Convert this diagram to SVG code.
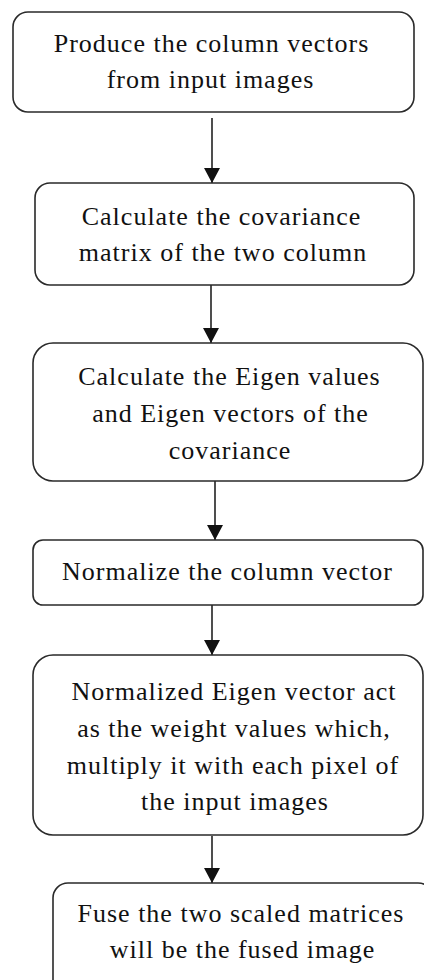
<svg xmlns="http://www.w3.org/2000/svg" width="424" height="980" viewBox="0 0 424 980">
<style>
.box{fill:#fff;stroke:#2a2a2a;stroke-width:1.6}
.t{font-family:"Liberation Serif","Times New Roman",serif;font-size:26px;letter-spacing:1px;fill:#111;text-anchor:middle}
.c{stroke:#222;stroke-width:1.6;fill:none;marker-end:url(#ah)}
</style>
<defs>
<marker id="ah" markerUnits="userSpaceOnUse" markerWidth="18" markerHeight="16" refX="15" refY="8" orient="auto">
<path d="M0,0 L15,8 L0,16 Z" fill="#111"/>
</marker>
</defs>
<rect width="424" height="980" fill="#fff"/>
<g id="connectors">
<line class="c" x1="212" y1="118" x2="212" y2="183"/>
<line class="c" x1="211" y1="285" x2="211" y2="343"/>
<line class="c" x1="215" y1="481" x2="215" y2="540"/>
<line class="c" x1="212" y1="605" x2="212" y2="655"/>
<line class="c" x1="212" y1="836" x2="212" y2="883"/>
</g>
<g id="n1">
<rect class="box" x="13" y="12" width="401" height="100" rx="15"/>
<text class="t" x="211.5" y="52">Produce the column vectors</text>
<text class="t" x="210.5" y="88">from input images</text>
</g>
<g id="n2">
<rect class="box" x="35" y="183" width="379" height="102" rx="15"/>
<text class="t" x="221.5" y="225">Calculate the covariance</text>
<text class="t" x="223" y="261">matrix of the two column</text>
</g>
<g id="n3">
<rect class="box" x="33" y="343" width="390" height="138" rx="20"/>
<text class="t" x="229.5" y="385">Calculate the Eigen values</text>
<text class="t" x="230.5" y="422">and Eigen vectors of the</text>
<text class="t" x="230" y="459">covariance</text>
</g>
<g id="n4">
<rect class="box" x="33" y="540" width="390" height="65" rx="10"/>
<text class="t" x="227.5" y="580">Normalize the column vector</text>
</g>
<g id="n5">
<rect class="box" x="33" y="655" width="390" height="180" rx="20"/>
<text class="t" x="234" y="700">Normalized Eigen vector act</text>
<text class="t" x="234" y="737">as the weight values which,</text>
<text class="t" x="233" y="774">multiply it with each pixel of</text>
<text class="t" x="235" y="810">the input images</text>
</g>
<g id="n6">
<rect class="box" x="53" y="883" width="380" height="120" rx="15"/>
<text class="t" x="241" y="922">Fuse the two scaled matrices</text>
<text class="t" x="242.5" y="958">will be the fused image</text>
</g>
</svg>
